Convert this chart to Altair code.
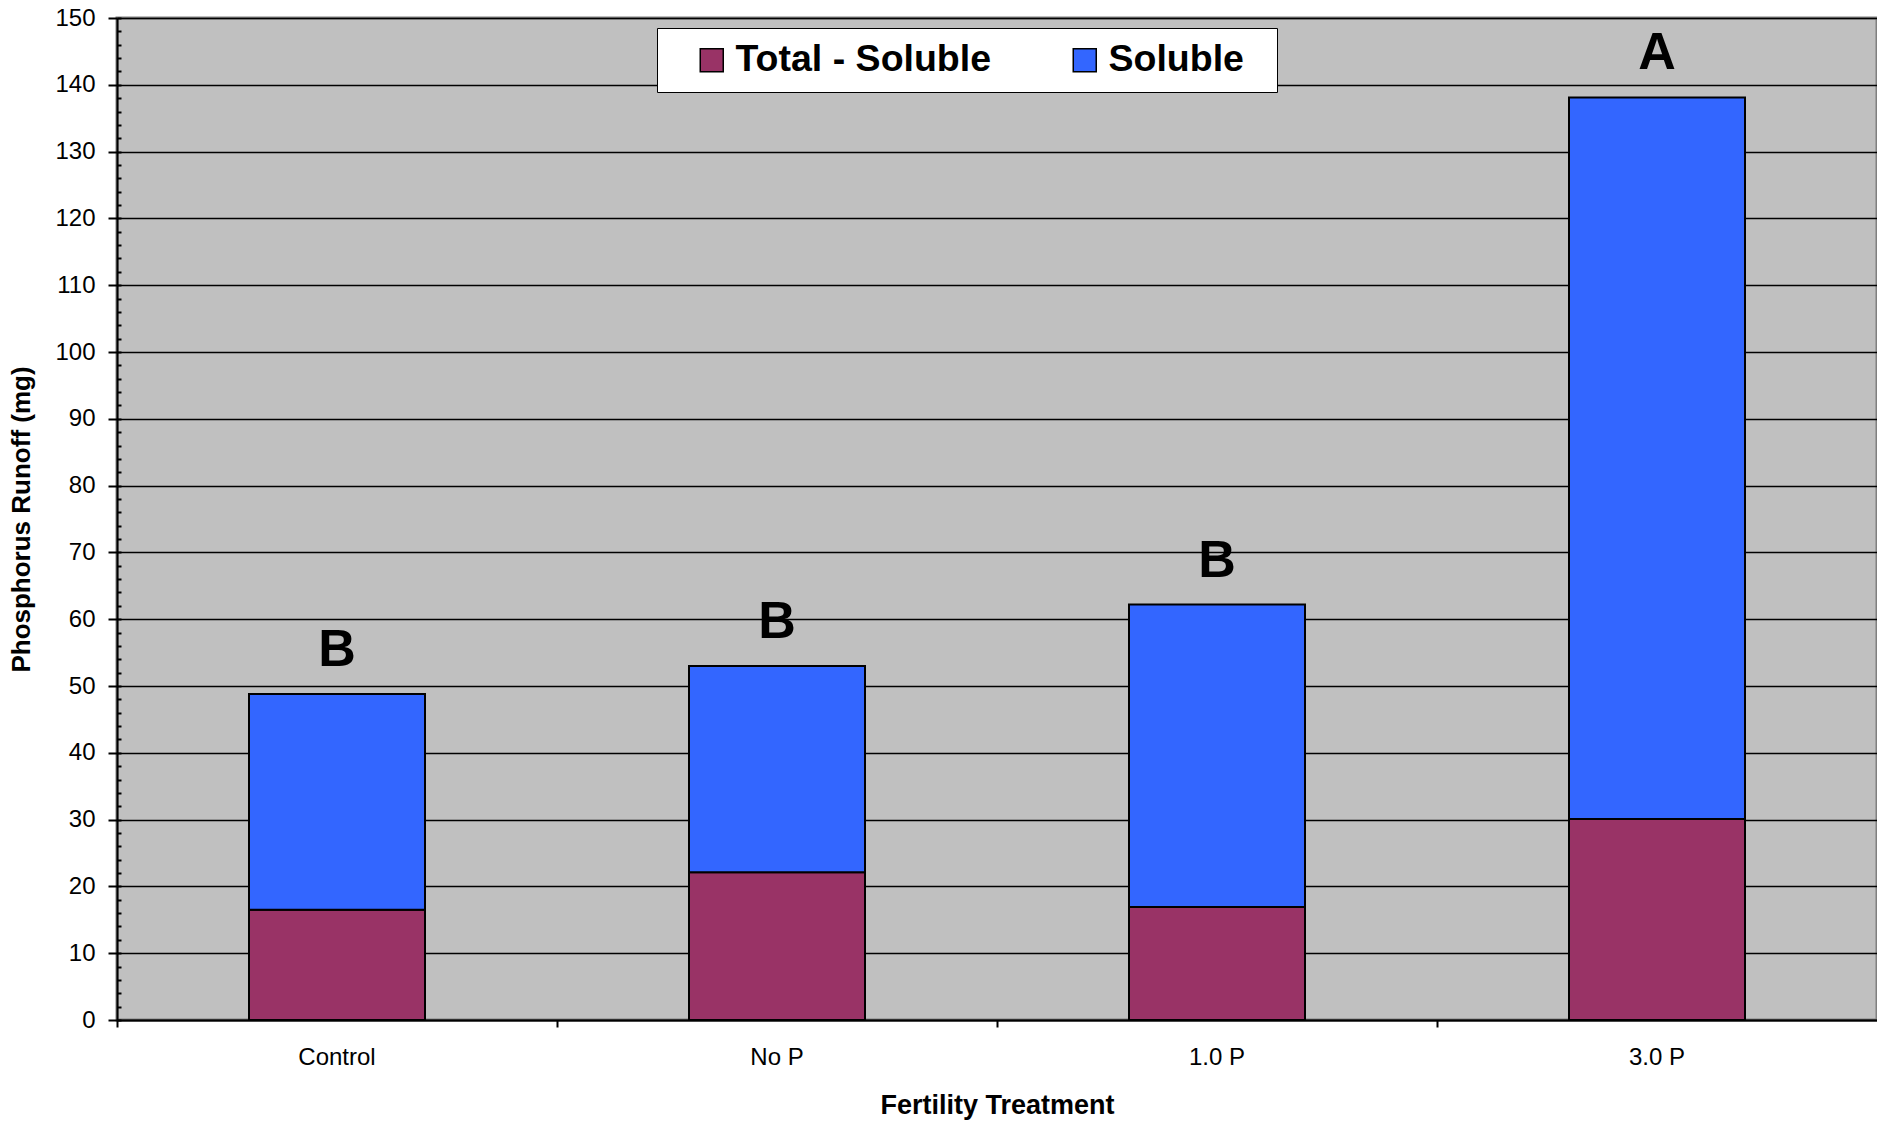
import altair as alt
import pandas as pd

# Phosphorus runoff by fertility treatment, split into soluble and
# (total - soluble) fractions, with significance letters above each bar.
treatments = ["Control", "No P", "1.0 P", "3.0 P"]
total_minus_soluble = [16.5, 22.1, 16.9, 30.1]
soluble = [32.3, 30.9, 45.3, 108.0]
letters = ["B", "B", "B", "A"]

components = ["Total - Soluble", "Soluble"]
component_colors = ["#993366", "#3366FF"]

rows = []
for t, a, b in zip(treatments, total_minus_soluble, soluble):
    rows.append({"treatment": t, "component": components[0], "value": a, "stack_idx": 0})
    rows.append({"treatment": t, "component": components[1], "value": b, "stack_idx": 1})
bars_df = pd.DataFrame(rows)

labels_df = pd.DataFrame({
    "treatment": treatments,
    "letter": letters,
    "total": [a + b for a, b in zip(total_minus_soluble, soluble)],
})

FONT = "Liberation Sans"
PLOT_W, PLOT_H = 1760, 1002

x_enc = alt.X(
    "treatment:N",
    sort=treatments,
    scale=alt.Scale(paddingInner=0, paddingOuter=0),
    axis=alt.Axis(
        title="Fertility Treatment",
        titleFont=FONT, titleFontSize=27, titleFontWeight="bold", titleColor="black",
        titlePadding=23,
        labelFont=FONT, labelFontSize=24, labelColor="black", labelAngle=0,
        labelPadding=18,
        bandPosition=0, ticks=True, tickSize=7, tickWidth=2, tickColor="black",
        domainColor="black", domainWidth=2, grid=False,
    ),
)

y_scale = alt.Scale(domain=[0, 150], nice=False, zero=True)

bars = alt.Chart(bars_df).mark_bar(
    stroke="black", strokeWidth=2, width=alt.RelativeBandSize(0.4)
).encode(
    x=x_enc,
    y=alt.Y(
        "value:Q",
        stack="zero",
        scale=y_scale,
        axis=alt.Axis(
            title="Phosphorus Runoff (mg)",
            titleFont=FONT, titleFontSize=26, titleFontWeight="bold", titleColor="black",
            titlePadding=20,
            labelFont=FONT, labelFontSize=24, labelColor="black", labelPadding=13,
            values=list(range(0, 151, 10)),
            tickSize=9, tickWidth=2, tickColor="black",
            domainColor="black", domainWidth=2,
            grid=True, gridColor="black", gridWidth=1.5, gridOpacity=1,
        ),
    ),
    color=alt.Color(
        "component:N",
        scale=alt.Scale(domain=components, range=component_colors),
        legend=alt.Legend(
            title="\u00a0",
            titleOrient="right",
            titlePadding=20,
            orient="none",
            legendX=540,
            legendY=10,
            direction="horizontal",
            fillColor="white",
            strokeColor="black",
            padding=13,
            symbolType="square",
            symbolSize=529,
            symbolStrokeColor="black",
            symbolStrokeWidth=1.5,
            symbolOpacity=1,
            symbolOffset=23,
            labelFont=FONT,
            labelFontSize=37.5,
            labelFontWeight="bold",
            labelColor="black",
            labelOffset=5,
            labelLimit=500,
            columnPadding=51,
        ),
    ),
    order=alt.Order("stack_idx:Q", sort="ascending"),
)

# significance letters above each stacked bar
letters_layer = alt.Chart(labels_df).mark_text(
    font=FONT, fontSize=52, fontWeight="bold", color="black",
    baseline="alphabetic", dy=-28,
).encode(
    x=alt.X("treatment:N", sort=treatments),
    y=alt.Y(
        "total:Q",
        scale=y_scale,
        axis=alt.Axis(
            orient="right",
            offset=-PLOT_W,
            title=None,
            labels=False,
            domain=False,
            grid=False,
            values=list(range(0, 151, 2)),
            tickSize=4, tickWidth=2, tickColor="black",
        ),
    ),
    text="letter:N",
)

chart = alt.layer(bars, letters_layer).resolve_axis(y="independent").properties(
    width=PLOT_W,
    height=PLOT_H,
    autosize=alt.AutoSizeParams(type="none"),
    padding={"left": 117, "top": 18, "right": 0, "bottom": 102},
    background="white",
).configure_view(
    fill="#C0C0C0", stroke="#808080", strokeWidth=3
)

chart.save("out.html", embed_options={"renderer": "svg", "actions": False})
